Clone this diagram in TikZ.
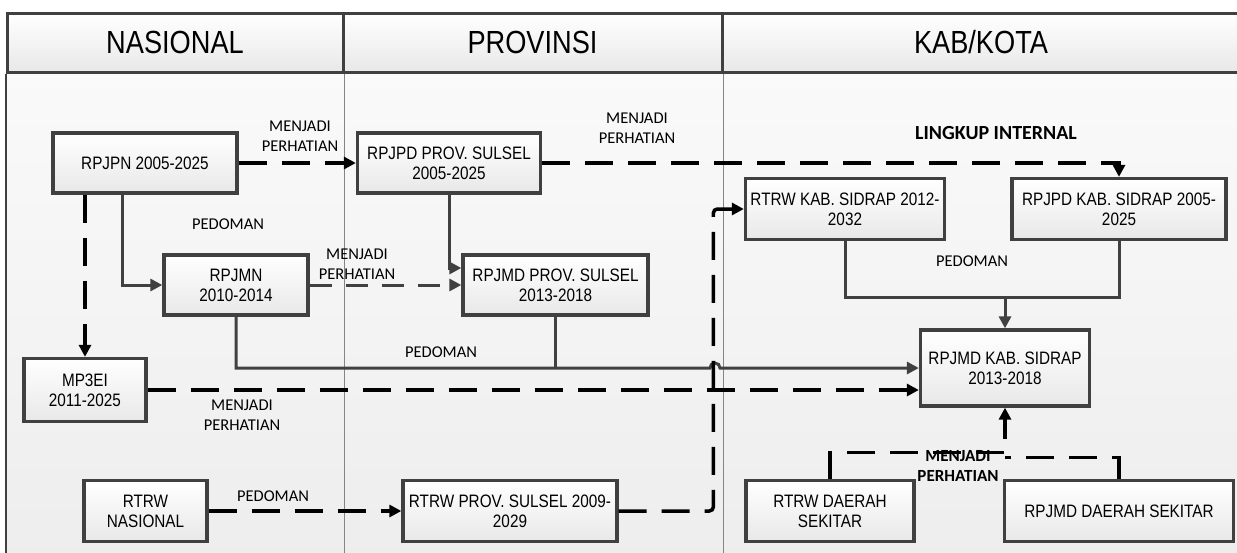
\documentclass[tikz,border=0pt]{standalone}
\usepackage{fontspec}
\setmainfont{Liberation Sans}[FakeStretch=0.85]
\newfontfamily\lblfont{Carlito}
\usetikzlibrary{arrows.meta,positioning,calc}
\definecolor{edgegray}{HTML}{404040}
\definecolor{lanegray}{HTML}{858585}

\begin{document}
\begin{tikzpicture}[
    x=1pt, y=-1pt,
    lane/.style={rectangle, draw=edgegray, line width=3pt, top color=white, bottom color=black!9, minimum height=59pt, font=\fontsize{32}{34}\selectfont},
    box/.style={rectangle, draw=edgegray, line width=3.3pt, top color=white, bottom color=black!9, align=center, minimum height=61pt, font=\fontsize{18}{20}\selectfont},
    lbl/.style={align=center, font=\lblfont\fontsize{16.5}{20}\selectfont},
    lblbold/.style={lbl, font=\lblfont\bfseries\fontsize{17}{20}\selectfont},
    laneline/.style={draw=lanegray, line width=1.2pt},
    pedarrow/.style={draw=edgegray, line width=3pt, -{Triangle[length=12pt,width=12pt]}},
    pedline/.style={draw=edgegray, line width=3pt},
    perharrow/.style={draw=black, line width=3.5pt, dash pattern=on 28pt off 15pt, -{Triangle[length=12pt,width=12pt]}},
    perhline/.style={draw=black, line width=3.5pt, dash pattern=on 28pt off 15pt},
    grayperh/.style={draw=edgegray, line width=3pt, dash pattern=on 22pt off 14pt, -{Triangle[length=12pt,width=12pt]}}
]
\path[use as bounding box, clip] (0,0) rectangle (1237,552);

% Lanes
\shade[top color=white!98!black, bottom color=white!93!black] (7,72) rectangle (1250,560);
\node[lane, minimum width=336pt] (nasional) at (175,42.5) {NASIONAL};
\node[lane, minimum width=379pt] (provinsi) at (532.5,42.5) {PROVINSI};
\node[lane, minimum width=518pt] (kabkota) at (981,42.5) {KAB/KOTA};
\draw[edgegray, line width=2pt] (nasional.south west) -- ++(0,500);
\draw[laneline] (nasional.south east) -- ++(0,500);
\draw[laneline] (provinsi.south east) -- ++(0,500);

% Nasional
\node[box, minimum width=184pt, minimum height=60pt] (rpjpn) at (145,163) {RPJPN 2005-2025};
\node[box, minimum width=144pt, minimum height=60pt] (rpjmn) at (236,285) {RPJMN\\2010-2014};
\node[box, minimum width=122pt, minimum height=63pt] (mp3ei) at (85,390) {MP3EI\\2011-2025};
\node[box, minimum width=123pt] (rtrwnas) at (145.5,511) {RTRW\\NASIONAL};

% Provinsi
\node[box, minimum width=183pt, minimum height=60pt] (rpjpdprov) at (449,163) {RPJPD PROV. SULSEL\\2005-2025};
\node[box, minimum width=185pt, minimum height=60pt] (rpjmdprov) at (555.5,285) {RPJMD PROV. SULSEL\\2013-2018};
\node[box, minimum width=214pt] (rtrwprov) at (510,511) {RTRW PROV. SULSEL 2009-\\2029};

% Kab/Kota
\node[box, minimum width=199pt] (rtrwkab) at (845,209) {RTRW KAB. SIDRAP 2012-\\2032};
\node[box, minimum width=214pt] (rpjpdkab) at (1119,209) {RPJPD KAB. SIDRAP 2005-\\2025};
\node[box, minimum width=169pt, minimum height=76pt] (rpjmdkab) at (1005,368) {RPJMD KAB. SIDRAP\\2013-2018};
\node[box, minimum width=168pt] (rtrwdaerah) at (830,511) {RTRW DAERAH\\SEKITAR};
\node[box, minimum width=229pt] (rpjmddaerah) at (1119,511) {RPJMD DAERAH SEKITAR};

% Labels
\node[lbl] (perh-a) at (300,136) {MENJADI\\PERHATIAN};
\node[lbl] (perh-b) at (637,128) {MENJADI\\PERHATIAN};
\node[lbl] (ped-a) at (228,224) {PEDOMAN};
\node[lbl] (perh-c) at (357,264) {MENJADI\\PERHATIAN};
\node[lbl] (ped-b) at (441,352) {PEDOMAN};
\node[lbl] (perh-d) at (242,415) {MENJADI\\PERHATIAN};
\node[lbl] (ped-c) at (273,496) {PEDOMAN};
\node[lbl] (ped-d) at (972,261) {PEDOMAN};
\node[lblbold, font=\lblfont\bfseries\fontsize{20}{22}\selectfont] (internal) at (996,133) {LINGKUP INTERNAL};
\node[lblbold] (perh-e) at (958,466) {MENJADI\\PERHATIAN};

% Pedoman arrows
\draw[pedarrow] ([xshift=-23pt]rpjpn.south) |- (rpjmn.west);
\draw[pedarrow] (rpjpdprov.south) |- ([yshift=17pt]rpjmdprov.west);
\coordinate (hop) at (715,368);
\draw[pedarrow] (rpjmn.south) |- ([xshift=-5pt]hop) arc[start angle=180, end angle=0, radius=5pt] -- (rpjmdkab.west);
\draw[pedline] (rpjmdprov.south) -- (rpjmdprov.south |- rpjmdkab.west);
\draw[pedline] (rtrwkab.south) |- ([yshift=31pt]rpjmdkab.north) -| (rpjpdkab.south);
\draw[pedarrow] ([yshift=31pt]rpjmdkab.north) -- (rpjmdkab.north);

% Menjadi perhatian arrows
\draw[perharrow] (rpjpn.east) -- (rpjpdprov.west);
\draw[perharrow] (rpjpdprov.east) -| (rpjpdkab.north);
\draw[perharrow] (rpjpn.south -| mp3ei.north) -- (mp3ei.north);
\draw[grayperh] (rpjmn.east) -- (rpjmn.east -| rpjmdprov.west);
\draw[perharrow] (mp3ei.east) -- (mp3ei.east -| rpjmdkab.west);
\draw[perharrow] (rtrwnas.east) -- (rtrwprov.west);
\draw[perharrow, rounded corners=4pt] (rtrwprov.east) -| ([xshift=-30.5pt]rtrwkab.west) -- (rtrwkab.west);
\draw[perharrow] (rtrwdaerah.north) |- ([yshift=-45pt]rpjmdkab.south) -- (rpjmdkab.south);
\draw[perhline] (rpjmddaerah.north) |- ([yshift=-50pt]rpjmdkab.south);

\end{tikzpicture}
\end{document}
